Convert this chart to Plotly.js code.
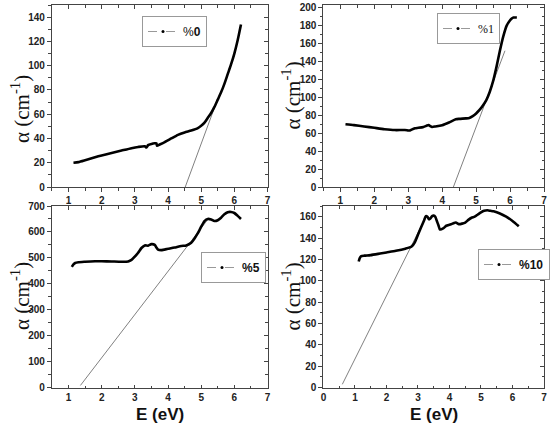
<!DOCTYPE html>
<html><head><meta charset="utf-8">
<script src="https://cdn.plot.ly/plotly-3.0.1.min.js"></script>
<style>html,body{margin:0;padding:0;background:#fff}#plot{width:550px;height:428px}</style>
</head><body><div id="plot"></div>
<script>
// ---- data ----
const e0 = [1.15,1.3,1.5,1.8,2.0,2.3,2.6,2.9,3.1,3.3,3.35,3.4,3.5,3.6,3.65,3.67,3.75,3.9,4.1,4.3,4.5,4.7,4.9,5.0,5.1,5.2,5.3,5.4,5.5,5.6,5.7,5.8,5.9,6.0,6.1,6.2];
const a0 = [20,20.5,22,24.5,26,28,30,32,33,33.5,32.5,34.5,35.5,36,36,34,35,37,40,43,45,46.5,48.5,50.5,53,57,61,66,72,78,85,93,101,110,121,134];
const t0x = [4.52,5.45], t0y = [0,69];

const e1 = [1.15,1.4,1.7,2.0,2.3,2.6,2.9,3.0,3.05,3.1,3.2,3.3,3.45,3.55,3.6,3.65,3.7,3.8,4.0,4.2,4.4,4.5,4.7,4.8,4.9,5.0,5.1,5.2,5.3,5.4,5.5,5.6,5.7,5.8,5.9,6.0,6.05,6.1,6.2];
const a1 = [70,69,67.5,66,64.5,63.5,63.5,63,63,64,65.5,66,67,68.5,69,68,67,67.5,69,72,75.5,76,76.5,77,79,82,86,91,97,106,118,134,152,168,180,186,188,189,189];
const t1x = [4.33,5.85], t1y = [0,152];

const e5 = [1.1,1.15,1.2,1.3,1.5,1.8,2.0,2.3,2.6,2.8,2.9,3.0,3.1,3.2,3.3,3.4,3.5,3.6,3.65,3.7,3.8,4.0,4.2,4.4,4.55,4.7,4.8,4.9,5.0,5.1,5.2,5.3,5.4,5.5,5.6,5.7,5.8,5.9,6.0,6.1,6.2];
const a5 = [465,475,480,483,485,487,487,486,485,486,492,505,520,538,548,547,553,550,540,532,530,535,540,546,548,558,575,595,620,642,650,648,642,645,655,668,676,677,673,662,650];
const t5x = [1.36,5.2], t5y = [8,648];

const e10 = [1.12,1.15,1.2,1.3,1.5,1.8,2.0,2.3,2.6,2.8,2.9,3.0,3.1,3.2,3.25,3.3,3.35,3.4,3.45,3.5,3.55,3.6,3.65,3.7,3.8,3.9,4.0,4.1,4.2,4.3,4.4,4.5,4.6,4.7,4.8,4.9,5.0,5.1,5.2,5.3,5.4,5.6,5.8,6.0,6.2];
const a10 = [118,121,123,123.5,124,125.5,126.5,128,130,132,136,143,150,157,160.5,160,157.5,158.5,160.5,161,160,156,152,148,149,151.5,152.5,153.5,154.5,153,153.5,154.5,157,159,160,162,164,165.5,166,165.5,165,163,160,156,151];
const t10x = [0.6,3.22], t10y = [3,158];

const legendNames = ['%<b>0</b>','%1','<b>%5</b>','<b>%10</b>'];
const yTitle = 'α (cm<sup>-1</sup>)';
const xTitle = 'E (eV)';

// ---- build ----
const W = 550, H = 428;
const px = v => v / W, py = v => 1 - v / H;
const panels = [
  {x:e0, y:a0, tx:t0x, ty:t0y, xr:[0.5,7], yr:[0,150], ydt:20, xdom:[52,268], ydom:[5,187], leg:[142,16], lf:'Liberation Sans', yt:109, bottom:false},
  {x:e1, y:a1, tx:t1x, ty:t1y, xr:[0.5,7], yr:[0,203], ydt:20, xdom:[324,545], ydom:[5,187], leg:[437,13], lf:'Liberation Serif', yt:95, bottom:false},
  {x:e5, y:a5, tx:t5x, ty:t5y, xr:[0.5,7], yr:[0,700], ydt:100, xdom:[52,268], ydom:[206,387.5], leg:[201,252], lf:'Liberation Sans', yt:296, bottom:true},
  {x:e10, y:a10, tx:t10x, ty:t10y, xr:[0,7], yr:[0,170], ydt:20, xdom:[324,545], ydom:[206,387.5], leg:[479,249], lf:'Liberation Sans', yt:296, bottom:true},
];

const traces = [];
const layout = {width:W, height:H, margin:{l:0,r:0,t:0,b:0}, paper_bgcolor:'#fff', plot_bgcolor:'#fff', showlegend:true, annotations:[]};
const tickfont = {family:'Liberation Sans', size:10, color:'#222', weight:'bold'};
const axCommon = {showline:true, linecolor:'#444', linewidth:1, mirror:true, ticks:'outside', ticklen:4, tickcolor:'#444', showgrid:false, zeroline:false, tickfont:tickfont, fixedrange:true};

panels.forEach((p, i) => {
  const n = i + 1;
  const xa = 'x' + (n === 1 ? '' : n), ya = 'y' + (n === 1 ? '' : n);
  const xk = 'xaxis' + (n === 1 ? '' : n), yk = 'yaxis' + (n === 1 ? '' : n);
  const legKey = 'legend' + (n === 1 ? '' : n);
  traces.push({x:p.tx, y:p.ty, xaxis:xa, yaxis:ya, mode:'lines', line:{color:'#808080', width:1}, showlegend:false, hoverinfo:'skip'});
  traces.push({x:p.x, y:p.y, xaxis:xa, yaxis:ya, mode:'lines', line:{color:'#000', width:2.6, shape:'spline', smoothing:0.6}, showlegend:false});
  traces.push({x:[null], y:[null], xaxis:xa, yaxis:ya, mode:'lines+markers', name:legendNames[i], legend:legKey,
    line:{color:'#999', width:1, dash:'dash'}, marker:{color:'#000', size:3}});
  const xt = p.bottom ? {ticks:'inside', ticklen:3, minor:{ticks:'inside', ticklen:2, dtick:0.5, tickcolor:'#444'}}
                      : {ticks:'outside', ticklen:4, minor:{ticks:'outside', ticklen:2.5, dtick:0.5, tickcolor:'#444'}};
  layout[xk] = Object.assign({}, axCommon, {domain:[px(p.xdom[0]), px(p.xdom[1])], range:p.xr, dtick:1, tick0:0, anchor:ya}, xt);
  layout[yk] = Object.assign({}, axCommon, {domain:[py(p.ydom[1]), py(p.ydom[0])], range:p.yr, dtick:p.ydt, tick0:0, anchor:xa,
    minor:{ticks:'outside', ticklen:2.5, dtick:p.ydt/2, tickcolor:'#444'}});
  layout[legKey] = {x:px(p.leg[0]), y:py(p.leg[1]), xanchor:'left', yanchor:'top', bgcolor:'#fff', bordercolor:'#999', borderwidth:1,
    font:{family:p.lf, size:12, color:'#111'}, itemwidth:30, tracegroupgap:0};
  layout.annotations.push({xref:'paper', yref:'paper', x:px(p.xdom[0]-32), y:py(p.yt), text:yTitle, textangle:-90, showarrow:false,
    font:{family:'Liberation Serif', size:21, color:'#111'}, xanchor:'center', yanchor:'middle'});
  if (p.bottom) {
    layout.annotations.push({xref:'paper', yref:'paper', x:px((p.xdom[0]+p.xdom[1])/2), y:py(414), text:xTitle, showarrow:false,
      font:{family:'Liberation Sans', size:17, color:'#111', weight:'bold'}, xanchor:'center', yanchor:'middle'});
  }
  // inner-facing ticks on top and right edges (overlay axes)
  const xo = 'x' + (n + 4), yo = 'y' + (n + 4);
  layout['xaxis' + (n + 4)] = {overlaying:xa, anchor:ya, side:'top', range:p.xr, dtick:1, tick0:0, ticks:'inside', ticklen:4, tickcolor:'#444',
    showticklabels:false, showline:false, showgrid:false, zeroline:false, fixedrange:true,
    minor:{ticks:'inside', ticklen:2.5, dtick:0.5, tickcolor:'#444'}};
  layout['yaxis' + (n + 4)] = {overlaying:ya, anchor:xa, side:'right', range:p.yr, dtick:p.ydt, tick0:0, ticks:'inside', ticklen:4, tickcolor:'#444',
    showticklabels:false, showline:false, showgrid:false, zeroline:false, fixedrange:true,
    minor:{ticks:'inside', ticklen:2.5, dtick:p.ydt/2, tickcolor:'#444'}};
  traces.push({x:[null], y:[null], xaxis:xo, yaxis:ya, mode:'lines', showlegend:false, hoverinfo:'skip'});
  traces.push({x:[null], y:[null], xaxis:xa, yaxis:yo, mode:'lines', showlegend:false, hoverinfo:'skip'});
});

Plotly.newPlot('plot', traces, layout, {staticPlot:true});
</script></body></html>
